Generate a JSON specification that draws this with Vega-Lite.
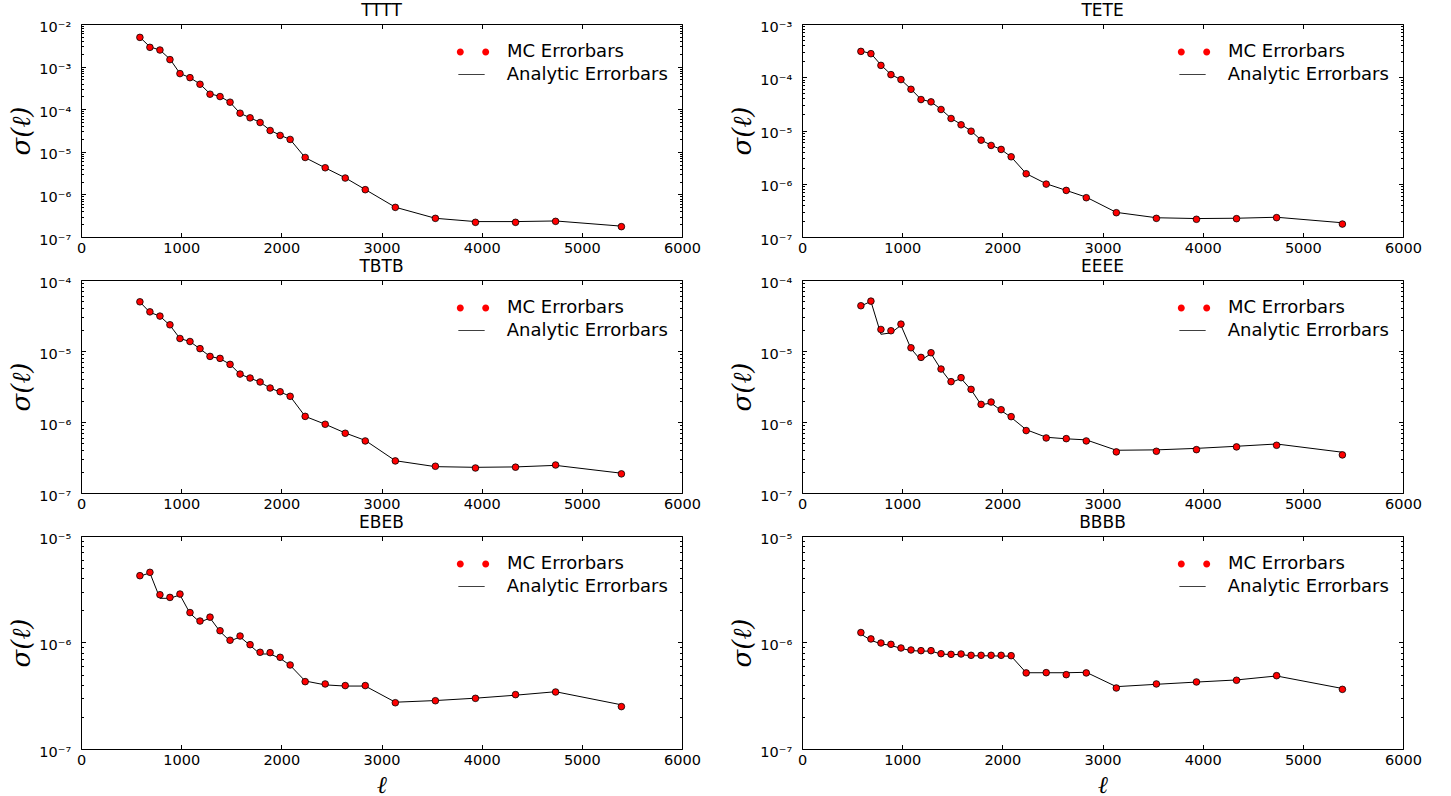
{
"$schema": "https://vega.github.io/schema/vega-lite/v6.json",
"padding": {"left": 7, "top": 1, "right": 5, "bottom": 0},
"background": "white",
"datasets": {"d": [
{"p":"TTTT","l":588,"mc":4.85e-3,"an":4.9e-3},{"p":"TTTT","l":688,"mc":2.83e-3,"an":2.9e-3},{"p":"TTTT","l":788,"mc":2.45e-3,"an":2.45e-3},{"p":"TTTT","l":888,"mc":1.46e-3,"an":1.5e-3},{"p":"TTTT","l":988,"mc":6.85e-4,"an":6.9e-4},{"p":"TTTT","l":1088,"mc":5.5e-4,"an":5.5e-4},{"p":"TTTT","l":1188,"mc":3.85e-4,"an":3.9e-4},{"p":"TTTT","l":1288,"mc":2.25e-4,"an":2.3e-4},{"p":"TTTT","l":1388,"mc":1.98e-4,"an":2.0e-4},{"p":"TTTT","l":1488,"mc":1.46e-4,"an":1.45e-4},{"p":"TTTT","l":1588,"mc":8.05e-5,"an":8.0e-5},{"p":"TTTT","l":1688,"mc":6.28e-5,"an":6.3e-5},{"p":"TTTT","l":1788,"mc":4.87e-5,"an":4.9e-5},{"p":"TTTT","l":1888,"mc":3.16e-5,"an":3.2e-5},{"p":"TTTT","l":1988,"mc":2.42e-5,"an":2.45e-5},{"p":"TTTT","l":2088,"mc":1.95e-5,"an":1.95e-5},{"p":"TTTT","l":2238,"mc":7.36e-6,"an":7.3e-6},{"p":"TTTT","l":2438,"mc":4.22e-6,"an":4.2e-6},{"p":"TTTT","l":2638,"mc":2.42e-6,"an":2.45e-6},{"p":"TTTT","l":2838,"mc":1.29e-6,"an":1.3e-6},{"p":"TTTT","l":3138,"mc":4.96e-7,"an":5.0e-7},{"p":"TTTT","l":3538,"mc":2.74e-7,"an":2.75e-7},{"p":"TTTT","l":3938,"mc":2.21e-7,"an":2.3e-7},{"p":"TTTT","l":4338,"mc":2.21e-7,"an":2.3e-7},{"p":"TTTT","l":4738,"mc":2.33e-7,"an":2.38e-7},{"p":"TTTT","l":5395,"mc":1.75e-7,"an":1.8e-7},
{"p":"TETE","l":588,"mc":3.06e-4,"an":3.1e-4},{"p":"TETE","l":688,"mc":2.77e-4,"an":2.8e-4},{"p":"TETE","l":788,"mc":1.67e-4,"an":1.7e-4},{"p":"TETE","l":888,"mc":1.12e-4,"an":1.13e-4},{"p":"TETE","l":988,"mc":9.04e-5,"an":9.0e-5},{"p":"TETE","l":1088,"mc":5.94e-5,"an":6.0e-5},{"p":"TETE","l":1188,"mc":3.81e-5,"an":3.85e-5},{"p":"TETE","l":1288,"mc":3.45e-5,"an":3.45e-5},{"p":"TETE","l":1388,"mc":2.48e-5,"an":2.5e-5},{"p":"TETE","l":1488,"mc":1.68e-5,"an":1.7e-5},{"p":"TETE","l":1588,"mc":1.28e-5,"an":1.3e-5},{"p":"TETE","l":1688,"mc":9.7e-6,"an":9.8e-6},{"p":"TETE","l":1788,"mc":6.58e-6,"an":6.6e-6},{"p":"TETE","l":1888,"mc":5.24e-6,"an":5.3e-6},{"p":"TETE","l":1988,"mc":4.41e-6,"an":4.4e-6},{"p":"TETE","l":2088,"mc":3.21e-6,"an":3.2e-6},{"p":"TETE","l":2238,"mc":1.54e-6,"an":1.55e-6},{"p":"TETE","l":2438,"mc":9.84e-7,"an":1.0e-6},{"p":"TETE","l":2638,"mc":7.5e-7,"an":7.5e-7},{"p":"TETE","l":2838,"mc":5.47e-7,"an":5.6e-7},{"p":"TETE","l":3138,"mc":2.86e-7,"an":2.9e-7},{"p":"TETE","l":3538,"mc":2.24e-7,"an":2.3e-7},{"p":"TETE","l":3938,"mc":2.15e-7,"an":2.22e-7},{"p":"TETE","l":4338,"mc":2.21e-7,"an":2.25e-7},{"p":"TETE","l":4738,"mc":2.31e-7,"an":2.35e-7},{"p":"TETE","l":5395,"mc":1.75e-7,"an":1.85e-7},
{"p":"TBTB","l":588,"mc":4.93e-5,"an":4.9e-5},{"p":"TBTB","l":688,"mc":3.56e-5,"an":3.5e-5},{"p":"TBTB","l":788,"mc":3.1e-5,"an":3.1e-5},{"p":"TBTB","l":888,"mc":2.34e-5,"an":2.3e-5},{"p":"TBTB","l":988,"mc":1.5e-5,"an":1.5e-5},{"p":"TBTB","l":1088,"mc":1.36e-5,"an":1.36e-5},{"p":"TBTB","l":1188,"mc":1.08e-5,"an":1.07e-5},{"p":"TBTB","l":1288,"mc":8.39e-6,"an":8.4e-6},{"p":"TBTB","l":1388,"mc":7.87e-6,"an":7.8e-6},{"p":"TBTB","l":1488,"mc":6.48e-6,"an":6.5e-6},{"p":"TBTB","l":1588,"mc":4.73e-6,"an":4.7e-6},{"p":"TBTB","l":1688,"mc":4.16e-6,"an":4.15e-6},{"p":"TBTB","l":1788,"mc":3.66e-6,"an":3.65e-6},{"p":"TBTB","l":1888,"mc":3.01e-6,"an":3.0e-6},{"p":"TBTB","l":1988,"mc":2.67e-6,"an":2.65e-6},{"p":"TBTB","l":2088,"mc":2.3e-6,"an":2.3e-6},{"p":"TBTB","l":2238,"mc":1.2e-6,"an":1.2e-6},{"p":"TBTB","l":2438,"mc":9.29e-7,"an":9.3e-7},{"p":"TBTB","l":2638,"mc":6.94e-7,"an":7.0e-7},{"p":"TBTB","l":2838,"mc":5.41e-7,"an":5.5e-7},{"p":"TBTB","l":3138,"mc":2.83e-7,"an":2.85e-7},{"p":"TBTB","l":3538,"mc":2.38e-7,"an":2.35e-7},{"p":"TBTB","l":3938,"mc":2.25e-7,"an":2.3e-7},{"p":"TBTB","l":4338,"mc":2.31e-7,"an":2.33e-7},{"p":"TBTB","l":4738,"mc":2.48e-7,"an":2.45e-7},{"p":"TBTB","l":5395,"mc":1.86e-7,"an":1.9e-7},
{"p":"EEEE","l":588,"mc":4.34e-5,"an":4.3e-5},{"p":"EEEE","l":688,"mc":5.04e-5,"an":5.0e-5},{"p":"EEEE","l":788,"mc":2.01e-5,"an":1.72e-5},{"p":"EEEE","l":888,"mc":1.93e-5,"an":1.8e-5},{"p":"EEEE","l":988,"mc":2.39e-5,"an":2.3e-5},{"p":"EEEE","l":1088,"mc":1.11e-5,"an":1.08e-5},{"p":"EEEE","l":1188,"mc":8.13e-6,"an":7.4e-6},{"p":"EEEE","l":1288,"mc":9.46e-6,"an":9.2e-6},{"p":"EEEE","l":1388,"mc":5.57e-6,"an":5.5e-6},{"p":"EEEE","l":1488,"mc":3.7e-6,"an":3.6e-6},{"p":"EEEE","l":1588,"mc":4.21e-6,"an":4.1e-6},{"p":"EEEE","l":1688,"mc":2.88e-6,"an":2.85e-6},{"p":"EEEE","l":1788,"mc":1.77e-6,"an":1.75e-6},{"p":"EEEE","l":1888,"mc":1.91e-6,"an":1.85e-6},{"p":"EEEE","l":1988,"mc":1.49e-6,"an":1.45e-6},{"p":"EEEE","l":2088,"mc":1.19e-6,"an":1.16e-6},{"p":"EEEE","l":2238,"mc":7.57e-7,"an":7.8e-7},{"p":"EEEE","l":2438,"mc":5.96e-7,"an":6.1e-7},{"p":"EEEE","l":2638,"mc":5.83e-7,"an":5.8e-7},{"p":"EEEE","l":2838,"mc":5.41e-7,"an":5.6e-7},{"p":"EEEE","l":3138,"mc":3.79e-7,"an":4.0e-7},{"p":"EEEE","l":3538,"mc":3.87e-7,"an":4.05e-7},{"p":"EEEE","l":3938,"mc":4.08e-7,"an":4.25e-7},{"p":"EEEE","l":4338,"mc":4.46e-7,"an":4.55e-7},{"p":"EEEE","l":4738,"mc":4.7e-7,"an":4.9e-7},{"p":"EEEE","l":5395,"mc":3.44e-7,"an":3.75e-7},
{"p":"EBEB","l":588,"mc":4.24e-6,"an":4.2e-6},{"p":"EBEB","l":688,"mc":4.56e-6,"an":4.5e-6},{"p":"EBEB","l":788,"mc":2.81e-6,"an":2.6e-6},{"p":"EBEB","l":888,"mc":2.65e-6,"an":2.6e-6},{"p":"EBEB","l":988,"mc":2.85e-6,"an":2.8e-6},{"p":"EBEB","l":1088,"mc":1.91e-6,"an":1.88e-6},{"p":"EBEB","l":1188,"mc":1.59e-6,"an":1.55e-6},{"p":"EBEB","l":1288,"mc":1.73e-6,"an":1.7e-6},{"p":"EBEB","l":1388,"mc":1.29e-6,"an":1.27e-6},{"p":"EBEB","l":1488,"mc":1.05e-6,"an":1.03e-6},{"p":"EBEB","l":1588,"mc":1.15e-6,"an":1.13e-6},{"p":"EBEB","l":1688,"mc":9.54e-7,"an":9.4e-7},{"p":"EBEB","l":1788,"mc":8.09e-7,"an":7.8e-7},{"p":"EBEB","l":1888,"mc":8.03e-7,"an":7.8e-7},{"p":"EBEB","l":1988,"mc":7.26e-7,"an":7.1e-7},{"p":"EBEB","l":2088,"mc":6.15e-7,"an":6.1e-7},{"p":"EBEB","l":2238,"mc":4.29e-7,"an":4.35e-7},{"p":"EBEB","l":2438,"mc":4.08e-7,"an":4.0e-7},{"p":"EBEB","l":2638,"mc":3.94e-7,"an":3.9e-7},{"p":"EBEB","l":2838,"mc":3.94e-7,"an":3.9e-7},{"p":"EBEB","l":3138,"mc":2.72e-7,"an":2.75e-7},{"p":"EBEB","l":3538,"mc":2.84e-7,"an":2.85e-7},{"p":"EBEB","l":3938,"mc":2.99e-7,"an":3.0e-7},{"p":"EBEB","l":4338,"mc":3.24e-7,"an":3.2e-7},{"p":"EBEB","l":4738,"mc":3.43e-7,"an":3.45e-7},{"p":"EBEB","l":5395,"mc":2.5e-7,"an":2.6e-7},
{"p":"BBBB","l":588,"mc":1.24e-6,"an":1.2e-6},{"p":"BBBB","l":688,"mc":1.08e-6,"an":1.05e-6},{"p":"BBBB","l":788,"mc":9.89e-7,"an":9.7e-7},{"p":"BBBB","l":888,"mc":9.61e-7,"an":9.4e-7},{"p":"BBBB","l":988,"mc":8.88e-7,"an":8.8e-7},{"p":"BBBB","l":1088,"mc":8.51e-7,"an":8.4e-7},{"p":"BBBB","l":1188,"mc":8.38e-7,"an":8.3e-7},{"p":"BBBB","l":1288,"mc":8.38e-7,"an":8.3e-7},{"p":"BBBB","l":1388,"mc":7.85e-7,"an":7.8e-7},{"p":"BBBB","l":1488,"mc":7.74e-7,"an":7.7e-7},{"p":"BBBB","l":1588,"mc":7.8e-7,"an":7.7e-7},{"p":"BBBB","l":1688,"mc":7.58e-7,"an":7.5e-7},{"p":"BBBB","l":1788,"mc":7.58e-7,"an":7.5e-7},{"p":"BBBB","l":1888,"mc":7.58e-7,"an":7.5e-7},{"p":"BBBB","l":1988,"mc":7.58e-7,"an":7.45e-7},{"p":"BBBB","l":2088,"mc":7.52e-7,"an":7.45e-7},{"p":"BBBB","l":2238,"mc":5.18e-7,"an":5.2e-7},{"p":"BBBB","l":2438,"mc":5.21e-7,"an":5.2e-7},{"p":"BBBB","l":2638,"mc":4.99e-7,"an":5.2e-7},{"p":"BBBB","l":2838,"mc":5.18e-7,"an":5.25e-7},{"p":"BBBB","l":3138,"mc":3.74e-7,"an":3.85e-7},{"p":"BBBB","l":3538,"mc":4.08e-7,"an":4.05e-7},{"p":"BBBB","l":3938,"mc":4.26e-7,"an":4.25e-7},{"p":"BBBB","l":4338,"mc":4.42e-7,"an":4.45e-7},{"p":"BBBB","l":4738,"mc":4.88e-7,"an":4.85e-7},{"p":"BBBB","l":5395,"mc":3.63e-7,"an":3.7e-7}
]},
"data": {"name": "d"},
"columns": 2,
"spacing": {"row": 43, "column": 120},
"bounds": "flush",
"resolve": {"scale": {"shape": "independent", "strokeDash": "independent"}, "legend": {"shape": "independent", "strokeDash": "independent"}},
"concat": [
{"title": "TTTT", "width": 601, "height": 213,
 "transform": [{"filter": "datum.p === 'TTTT'"}],
 "layer": [
  {"mark": {"type": "line", "color": "black", "strokeWidth": 1},
   "encoding": {
    "x": {"field": "l", "type": "quantitative", "scale": {"domain": [0, 6000], "nice": false, "zero": false}, "axis": {"orient": "bottom", "values": [0,1000,2000,3000,4000,5000,6000], "format": "d", "title": null, "tickSize": -4.5, "labelPadding": 9.2}},
    "y": {"field": "an", "type": "quantitative", "scale": {"type": "log", "domain": [1e-7, 1e-2], "nice": false}, "axis": {"orient": "left", "values": [1e-7,2e-7,3e-7,4e-7,5e-7,6e-7,7e-7,8e-7,9e-7,1e-6,2e-6,3e-6,4e-6,5e-6,6e-6,7e-6,8e-6,9e-6,1e-5,2e-5,3e-5,4e-5,5e-5,6e-5,7e-5,8e-5,9e-5,1e-4,2e-4,3e-4,4e-4,5e-4,6e-4,7e-4,8e-4,9e-4,1e-3,2e-3,3e-3,4e-3,5e-3,6e-3,7e-3,8e-3,9e-3,1e-2], "labelExpr": "abs(log(datum.value)/LN10-round(log(datum.value)/LN10))<0.001?'10⁻'+['⁰','¹','²','³','⁴','⁵','⁶','⁷','⁸','⁹'][-round(log(datum.value)/LN10)]:''", "tickSize": {"condition": {"test": "abs(log(datum.value)/LN10-round(log(datum.value)/LN10))<0.001", "value": -4.5}, "value": -2.5}, "labelPadding": 14.8, "labelOffset": 3, "title": "σ(ℓ)", "titleX": -60, "titleY": 106.5}}
   }},
  {"mark": {"type": "point", "filled": true, "fill": "#ff0000", "stroke": "black", "strokeWidth": 0.8, "size": 44, "opacity": 1},
   "encoding": {
    "x": {"field": "l", "type": "quantitative", "scale": {"domain": [0, 6000], "nice": false, "zero": false}, "axis": {"orient": "top", "values": [0,1000,2000,3000,4000,5000,6000], "labels": false, "title": null, "tickSize": -4.5}},
    "y": {"field": "mc", "type": "quantitative", "scale": {"type": "log", "domain": [1e-7, 1e-2], "nice": false}, "axis": {"orient": "right", "values": [1e-7,2e-7,3e-7,4e-7,5e-7,6e-7,7e-7,8e-7,9e-7,1e-6,2e-6,3e-6,4e-6,5e-6,6e-6,7e-6,8e-6,9e-6,1e-5,2e-5,3e-5,4e-5,5e-5,6e-5,7e-5,8e-5,9e-5,1e-4,2e-4,3e-4,4e-4,5e-4,6e-4,7e-4,8e-4,9e-4,1e-3,2e-3,3e-3,4e-3,5e-3,6e-3,7e-3,8e-3,9e-3,1e-2], "labels": false, "title": null, "tickSize": {"condition": {"test": "abs(log(datum.value)/LN10-round(log(datum.value)/LN10))<0.001", "value": -4.5}, "value": -2.5}}}
   }},
  {"data": {"values": []},
   "mark": {"type": "point", "filled": true, "fill": "#ff0000", "stroke": "black", "strokeWidth": 1, "opacity": 1},
   "encoding": {
    "x": {"field": "l", "type": "quantitative", "scale": {"domain": [0, 6000], "nice": false, "zero": false}, "axis": null},
    "y": {"field": "mc", "type": "quantitative", "scale": {"type": "log", "domain": [1e-7, 1e-2], "nice": false}, "axis": null},
    "shape": {"datum": "MC Errorbars", "type": "nominal", "scale": {"domain": ["MC Errorbars"], "range": ["M-1,0A0.216,0.216,0,1,1,-0.568,0A0.216,0.216,0,1,1,-1,0ZM0.568,0A0.216,0.216,0,1,1,1,0A0.216,0.216,0,1,1,0.568,0Z"]}, "legend": {"title": null, "orient": "none", "legendX": 375, "legendY": 11}}
   }},
  {"data": {"values": []},
   "mark": {"type": "line", "color": "black", "strokeWidth": 1},
   "encoding": {
    "x": {"field": "l", "type": "quantitative", "scale": {"domain": [0, 6000], "nice": false, "zero": false}, "axis": null},
    "y": {"field": "an", "type": "quantitative", "scale": {"type": "log", "domain": [1e-7, 1e-2], "nice": false}, "axis": null},
    "strokeDash": {"datum": "Analytic Errorbars", "type": "nominal", "scale": {"domain": ["Analytic Errorbars"], "range": [[1, 0]]}, "legend": {"title": null, "orient": "none", "legendX": 377, "legendY": 37, "symbolSize": 676, "symbolType": "stroke", "symbolStrokeColor": "black", "symbolStrokeWidth": 1, "labelOffset": 21.7}}
   }}
 ],
 "resolve": {"axis": {"x": "independent", "y": "independent"}}
},
{"title": "TETE", "width": 601, "height": 213,
 "transform": [{"filter": "datum.p === 'TETE'"}],
 "layer": [
  {"mark": {"type": "line", "color": "black", "strokeWidth": 1},
   "encoding": {
    "x": {"field": "l", "type": "quantitative", "scale": {"domain": [0, 6000], "nice": false, "zero": false}, "axis": {"orient": "bottom", "values": [0,1000,2000,3000,4000,5000,6000], "format": "d", "title": null, "tickSize": -4.5, "labelPadding": 9.2}},
    "y": {"field": "an", "type": "quantitative", "scale": {"type": "log", "domain": [1e-7, 1e-3], "nice": false}, "axis": {"orient": "left", "values": [1e-7,2e-7,3e-7,4e-7,5e-7,6e-7,7e-7,8e-7,9e-7,1e-6,2e-6,3e-6,4e-6,5e-6,6e-6,7e-6,8e-6,9e-6,1e-5,2e-5,3e-5,4e-5,5e-5,6e-5,7e-5,8e-5,9e-5,1e-4,2e-4,3e-4,4e-4,5e-4,6e-4,7e-4,8e-4,9e-4,1e-3], "labelExpr": "abs(log(datum.value)/LN10-round(log(datum.value)/LN10))<0.001?'10⁻'+['⁰','¹','²','³','⁴','⁵','⁶','⁷','⁸','⁹'][-round(log(datum.value)/LN10)]:''", "tickSize": {"condition": {"test": "abs(log(datum.value)/LN10-round(log(datum.value)/LN10))<0.001", "value": -4.5}, "value": -2.5}, "labelPadding": 14.8, "labelOffset": 3, "title": "σ(ℓ)", "titleX": -60, "titleY": 106.5}}
   }},
  {"mark": {"type": "point", "filled": true, "fill": "#ff0000", "stroke": "black", "strokeWidth": 0.8, "size": 44, "opacity": 1},
   "encoding": {
    "x": {"field": "l", "type": "quantitative", "scale": {"domain": [0, 6000], "nice": false, "zero": false}, "axis": {"orient": "top", "values": [0,1000,2000,3000,4000,5000,6000], "labels": false, "title": null, "tickSize": -4.5}},
    "y": {"field": "mc", "type": "quantitative", "scale": {"type": "log", "domain": [1e-7, 1e-3], "nice": false}, "axis": {"orient": "right", "values": [1e-7,2e-7,3e-7,4e-7,5e-7,6e-7,7e-7,8e-7,9e-7,1e-6,2e-6,3e-6,4e-6,5e-6,6e-6,7e-6,8e-6,9e-6,1e-5,2e-5,3e-5,4e-5,5e-5,6e-5,7e-5,8e-5,9e-5,1e-4,2e-4,3e-4,4e-4,5e-4,6e-4,7e-4,8e-4,9e-4,1e-3], "labels": false, "title": null, "tickSize": {"condition": {"test": "abs(log(datum.value)/LN10-round(log(datum.value)/LN10))<0.001", "value": -4.5}, "value": -2.5}}}
   }},
  {"data": {"values": []},
   "mark": {"type": "point", "filled": true, "fill": "#ff0000", "stroke": "black", "strokeWidth": 1, "opacity": 1},
   "encoding": {
    "x": {"field": "l", "type": "quantitative", "scale": {"domain": [0, 6000], "nice": false, "zero": false}, "axis": null},
    "y": {"field": "mc", "type": "quantitative", "scale": {"type": "log", "domain": [1e-7, 1e-3], "nice": false}, "axis": null},
    "shape": {"datum": "MC Errorbars", "type": "nominal", "scale": {"domain": ["MC Errorbars"], "range": ["M-1,0A0.216,0.216,0,1,1,-0.568,0A0.216,0.216,0,1,1,-1,0ZM0.568,0A0.216,0.216,0,1,1,1,0A0.216,0.216,0,1,1,0.568,0Z"]}, "legend": {"title": null, "orient": "none", "legendX": 375, "legendY": 11}}
   }},
  {"data": {"values": []},
   "mark": {"type": "line", "color": "black", "strokeWidth": 1},
   "encoding": {
    "x": {"field": "l", "type": "quantitative", "scale": {"domain": [0, 6000], "nice": false, "zero": false}, "axis": null},
    "y": {"field": "an", "type": "quantitative", "scale": {"type": "log", "domain": [1e-7, 1e-3], "nice": false}, "axis": null},
    "strokeDash": {"datum": "Analytic Errorbars", "type": "nominal", "scale": {"domain": ["Analytic Errorbars"], "range": [[1, 0]]}, "legend": {"title": null, "orient": "none", "legendX": 377, "legendY": 37, "symbolSize": 676, "symbolType": "stroke", "symbolStrokeColor": "black", "symbolStrokeWidth": 1, "labelOffset": 21.7}}
   }}
 ],
 "resolve": {"axis": {"x": "independent", "y": "independent"}}
},
{"title": "TBTB", "width": 601, "height": 213,
 "transform": [{"filter": "datum.p === 'TBTB'"}],
 "layer": [
  {"mark": {"type": "line", "color": "black", "strokeWidth": 1},
   "encoding": {
    "x": {"field": "l", "type": "quantitative", "scale": {"domain": [0, 6000], "nice": false, "zero": false}, "axis": {"orient": "bottom", "values": [0,1000,2000,3000,4000,5000,6000], "format": "d", "title": null, "tickSize": -4.5, "labelPadding": 9.2}},
    "y": {"field": "an", "type": "quantitative", "scale": {"type": "log", "domain": [1e-7, 1e-4], "nice": false}, "axis": {"orient": "left", "values": [1e-7,2e-7,3e-7,4e-7,5e-7,6e-7,7e-7,8e-7,9e-7,1e-6,2e-6,3e-6,4e-6,5e-6,6e-6,7e-6,8e-6,9e-6,1e-5,2e-5,3e-5,4e-5,5e-5,6e-5,7e-5,8e-5,9e-5,1e-4], "labelExpr": "abs(log(datum.value)/LN10-round(log(datum.value)/LN10))<0.001?'10⁻'+['⁰','¹','²','³','⁴','⁵','⁶','⁷','⁸','⁹'][-round(log(datum.value)/LN10)]:''", "tickSize": {"condition": {"test": "abs(log(datum.value)/LN10-round(log(datum.value)/LN10))<0.001", "value": -4.5}, "value": -2.5}, "labelPadding": 14.8, "labelOffset": 3, "title": "σ(ℓ)", "titleX": -60, "titleY": 106.5}}
   }},
  {"mark": {"type": "point", "filled": true, "fill": "#ff0000", "stroke": "black", "strokeWidth": 0.8, "size": 44, "opacity": 1},
   "encoding": {
    "x": {"field": "l", "type": "quantitative", "scale": {"domain": [0, 6000], "nice": false, "zero": false}, "axis": {"orient": "top", "values": [0,1000,2000,3000,4000,5000,6000], "labels": false, "title": null, "tickSize": -4.5}},
    "y": {"field": "mc", "type": "quantitative", "scale": {"type": "log", "domain": [1e-7, 1e-4], "nice": false}, "axis": {"orient": "right", "values": [1e-7,2e-7,3e-7,4e-7,5e-7,6e-7,7e-7,8e-7,9e-7,1e-6,2e-6,3e-6,4e-6,5e-6,6e-6,7e-6,8e-6,9e-6,1e-5,2e-5,3e-5,4e-5,5e-5,6e-5,7e-5,8e-5,9e-5,1e-4], "labels": false, "title": null, "tickSize": {"condition": {"test": "abs(log(datum.value)/LN10-round(log(datum.value)/LN10))<0.001", "value": -4.5}, "value": -2.5}}}
   }},
  {"data": {"values": []},
   "mark": {"type": "point", "filled": true, "fill": "#ff0000", "stroke": "black", "strokeWidth": 1, "opacity": 1},
   "encoding": {
    "x": {"field": "l", "type": "quantitative", "scale": {"domain": [0, 6000], "nice": false, "zero": false}, "axis": null},
    "y": {"field": "mc", "type": "quantitative", "scale": {"type": "log", "domain": [1e-7, 1e-4], "nice": false}, "axis": null},
    "shape": {"datum": "MC Errorbars", "type": "nominal", "scale": {"domain": ["MC Errorbars"], "range": ["M-1,0A0.216,0.216,0,1,1,-0.568,0A0.216,0.216,0,1,1,-1,0ZM0.568,0A0.216,0.216,0,1,1,1,0A0.216,0.216,0,1,1,0.568,0Z"]}, "legend": {"title": null, "orient": "none", "legendX": 375, "legendY": 11}}
   }},
  {"data": {"values": []},
   "mark": {"type": "line", "color": "black", "strokeWidth": 1},
   "encoding": {
    "x": {"field": "l", "type": "quantitative", "scale": {"domain": [0, 6000], "nice": false, "zero": false}, "axis": null},
    "y": {"field": "an", "type": "quantitative", "scale": {"type": "log", "domain": [1e-7, 1e-4], "nice": false}, "axis": null},
    "strokeDash": {"datum": "Analytic Errorbars", "type": "nominal", "scale": {"domain": ["Analytic Errorbars"], "range": [[1, 0]]}, "legend": {"title": null, "orient": "none", "legendX": 377, "legendY": 37, "symbolSize": 676, "symbolType": "stroke", "symbolStrokeColor": "black", "symbolStrokeWidth": 1, "labelOffset": 21.7}}
   }}
 ],
 "resolve": {"axis": {"x": "independent", "y": "independent"}}
},
{"title": "EEEE", "width": 601, "height": 213,
 "transform": [{"filter": "datum.p === 'EEEE'"}],
 "layer": [
  {"mark": {"type": "line", "color": "black", "strokeWidth": 1},
   "encoding": {
    "x": {"field": "l", "type": "quantitative", "scale": {"domain": [0, 6000], "nice": false, "zero": false}, "axis": {"orient": "bottom", "values": [0,1000,2000,3000,4000,5000,6000], "format": "d", "title": null, "tickSize": -4.5, "labelPadding": 9.2}},
    "y": {"field": "an", "type": "quantitative", "scale": {"type": "log", "domain": [1e-7, 1e-4], "nice": false}, "axis": {"orient": "left", "values": [1e-7,2e-7,3e-7,4e-7,5e-7,6e-7,7e-7,8e-7,9e-7,1e-6,2e-6,3e-6,4e-6,5e-6,6e-6,7e-6,8e-6,9e-6,1e-5,2e-5,3e-5,4e-5,5e-5,6e-5,7e-5,8e-5,9e-5,1e-4], "labelExpr": "abs(log(datum.value)/LN10-round(log(datum.value)/LN10))<0.001?'10⁻'+['⁰','¹','²','³','⁴','⁵','⁶','⁷','⁸','⁹'][-round(log(datum.value)/LN10)]:''", "tickSize": {"condition": {"test": "abs(log(datum.value)/LN10-round(log(datum.value)/LN10))<0.001", "value": -4.5}, "value": -2.5}, "labelPadding": 14.8, "labelOffset": 3, "title": "σ(ℓ)", "titleX": -60, "titleY": 106.5}}
   }},
  {"mark": {"type": "point", "filled": true, "fill": "#ff0000", "stroke": "black", "strokeWidth": 0.8, "size": 44, "opacity": 1},
   "encoding": {
    "x": {"field": "l", "type": "quantitative", "scale": {"domain": [0, 6000], "nice": false, "zero": false}, "axis": {"orient": "top", "values": [0,1000,2000,3000,4000,5000,6000], "labels": false, "title": null, "tickSize": -4.5}},
    "y": {"field": "mc", "type": "quantitative", "scale": {"type": "log", "domain": [1e-7, 1e-4], "nice": false}, "axis": {"orient": "right", "values": [1e-7,2e-7,3e-7,4e-7,5e-7,6e-7,7e-7,8e-7,9e-7,1e-6,2e-6,3e-6,4e-6,5e-6,6e-6,7e-6,8e-6,9e-6,1e-5,2e-5,3e-5,4e-5,5e-5,6e-5,7e-5,8e-5,9e-5,1e-4], "labels": false, "title": null, "tickSize": {"condition": {"test": "abs(log(datum.value)/LN10-round(log(datum.value)/LN10))<0.001", "value": -4.5}, "value": -2.5}}}
   }},
  {"data": {"values": []},
   "mark": {"type": "point", "filled": true, "fill": "#ff0000", "stroke": "black", "strokeWidth": 1, "opacity": 1},
   "encoding": {
    "x": {"field": "l", "type": "quantitative", "scale": {"domain": [0, 6000], "nice": false, "zero": false}, "axis": null},
    "y": {"field": "mc", "type": "quantitative", "scale": {"type": "log", "domain": [1e-7, 1e-4], "nice": false}, "axis": null},
    "shape": {"datum": "MC Errorbars", "type": "nominal", "scale": {"domain": ["MC Errorbars"], "range": ["M-1,0A0.216,0.216,0,1,1,-0.568,0A0.216,0.216,0,1,1,-1,0ZM0.568,0A0.216,0.216,0,1,1,1,0A0.216,0.216,0,1,1,0.568,0Z"]}, "legend": {"title": null, "orient": "none", "legendX": 375, "legendY": 11}}
   }},
  {"data": {"values": []},
   "mark": {"type": "line", "color": "black", "strokeWidth": 1},
   "encoding": {
    "x": {"field": "l", "type": "quantitative", "scale": {"domain": [0, 6000], "nice": false, "zero": false}, "axis": null},
    "y": {"field": "an", "type": "quantitative", "scale": {"type": "log", "domain": [1e-7, 1e-4], "nice": false}, "axis": null},
    "strokeDash": {"datum": "Analytic Errorbars", "type": "nominal", "scale": {"domain": ["Analytic Errorbars"], "range": [[1, 0]]}, "legend": {"title": null, "orient": "none", "legendX": 377, "legendY": 37, "symbolSize": 676, "symbolType": "stroke", "symbolStrokeColor": "black", "symbolStrokeWidth": 1, "labelOffset": 21.7}}
   }}
 ],
 "resolve": {"axis": {"x": "independent", "y": "independent"}}
},
{"title": "EBEB", "width": 601, "height": 213,
 "transform": [{"filter": "datum.p === 'EBEB'"}],
 "layer": [
  {"mark": {"type": "line", "color": "black", "strokeWidth": 1},
   "encoding": {
    "x": {"field": "l", "type": "quantitative", "scale": {"domain": [0, 6000], "nice": false, "zero": false}, "axis": {"orient": "bottom", "values": [0,1000,2000,3000,4000,5000,6000], "format": "d", "title": "ℓ", "titleX": 300.5, "titleY": 43, "titleBaseline": "alphabetic", "titleAlign": "center", "titleFontSize": 24, "tickSize": -4.5, "labelPadding": 9.2}},
    "y": {"field": "an", "type": "quantitative", "scale": {"type": "log", "domain": [1e-7, 1e-5], "nice": false}, "axis": {"orient": "left", "values": [1e-7,2e-7,3e-7,4e-7,5e-7,6e-7,7e-7,8e-7,9e-7,1e-6,2e-6,3e-6,4e-6,5e-6,6e-6,7e-6,8e-6,9e-6,1e-5], "labelExpr": "abs(log(datum.value)/LN10-round(log(datum.value)/LN10))<0.001?'10⁻'+['⁰','¹','²','³','⁴','⁵','⁶','⁷','⁸','⁹'][-round(log(datum.value)/LN10)]:''", "tickSize": {"condition": {"test": "abs(log(datum.value)/LN10-round(log(datum.value)/LN10))<0.001", "value": -4.5}, "value": -2.5}, "labelPadding": 14.8, "labelOffset": 3, "title": "σ(ℓ)", "titleX": -60, "titleY": 106.5}}
   }},
  {"mark": {"type": "point", "filled": true, "fill": "#ff0000", "stroke": "black", "strokeWidth": 0.8, "size": 44, "opacity": 1},
   "encoding": {
    "x": {"field": "l", "type": "quantitative", "scale": {"domain": [0, 6000], "nice": false, "zero": false}, "axis": {"orient": "top", "values": [0,1000,2000,3000,4000,5000,6000], "labels": false, "title": null, "tickSize": -4.5}},
    "y": {"field": "mc", "type": "quantitative", "scale": {"type": "log", "domain": [1e-7, 1e-5], "nice": false}, "axis": {"orient": "right", "values": [1e-7,2e-7,3e-7,4e-7,5e-7,6e-7,7e-7,8e-7,9e-7,1e-6,2e-6,3e-6,4e-6,5e-6,6e-6,7e-6,8e-6,9e-6,1e-5], "labels": false, "title": null, "tickSize": {"condition": {"test": "abs(log(datum.value)/LN10-round(log(datum.value)/LN10))<0.001", "value": -4.5}, "value": -2.5}}}
   }},
  {"data": {"values": []},
   "mark": {"type": "point", "filled": true, "fill": "#ff0000", "stroke": "black", "strokeWidth": 1, "opacity": 1},
   "encoding": {
    "x": {"field": "l", "type": "quantitative", "scale": {"domain": [0, 6000], "nice": false, "zero": false}, "axis": null},
    "y": {"field": "mc", "type": "quantitative", "scale": {"type": "log", "domain": [1e-7, 1e-5], "nice": false}, "axis": null},
    "shape": {"datum": "MC Errorbars", "type": "nominal", "scale": {"domain": ["MC Errorbars"], "range": ["M-1,0A0.216,0.216,0,1,1,-0.568,0A0.216,0.216,0,1,1,-1,0ZM0.568,0A0.216,0.216,0,1,1,1,0A0.216,0.216,0,1,1,0.568,0Z"]}, "legend": {"title": null, "orient": "none", "legendX": 375, "legendY": 11}}
   }},
  {"data": {"values": []},
   "mark": {"type": "line", "color": "black", "strokeWidth": 1},
   "encoding": {
    "x": {"field": "l", "type": "quantitative", "scale": {"domain": [0, 6000], "nice": false, "zero": false}, "axis": null},
    "y": {"field": "an", "type": "quantitative", "scale": {"type": "log", "domain": [1e-7, 1e-5], "nice": false}, "axis": null},
    "strokeDash": {"datum": "Analytic Errorbars", "type": "nominal", "scale": {"domain": ["Analytic Errorbars"], "range": [[1, 0]]}, "legend": {"title": null, "orient": "none", "legendX": 377, "legendY": 37, "symbolSize": 676, "symbolType": "stroke", "symbolStrokeColor": "black", "symbolStrokeWidth": 1, "labelOffset": 21.7}}
   }}
 ],
 "resolve": {"axis": {"x": "independent", "y": "independent"}}
},
{"title": "BBBB", "width": 601, "height": 213,
 "transform": [{"filter": "datum.p === 'BBBB'"}],
 "layer": [
  {"mark": {"type": "line", "color": "black", "strokeWidth": 1},
   "encoding": {
    "x": {"field": "l", "type": "quantitative", "scale": {"domain": [0, 6000], "nice": false, "zero": false}, "axis": {"orient": "bottom", "values": [0,1000,2000,3000,4000,5000,6000], "format": "d", "title": "ℓ", "titleX": 300.5, "titleY": 43, "titleBaseline": "alphabetic", "titleAlign": "center", "titleFontSize": 24, "tickSize": -4.5, "labelPadding": 9.2}},
    "y": {"field": "an", "type": "quantitative", "scale": {"type": "log", "domain": [1e-7, 1e-5], "nice": false}, "axis": {"orient": "left", "values": [1e-7,2e-7,3e-7,4e-7,5e-7,6e-7,7e-7,8e-7,9e-7,1e-6,2e-6,3e-6,4e-6,5e-6,6e-6,7e-6,8e-6,9e-6,1e-5], "labelExpr": "abs(log(datum.value)/LN10-round(log(datum.value)/LN10))<0.001?'10⁻'+['⁰','¹','²','³','⁴','⁵','⁶','⁷','⁸','⁹'][-round(log(datum.value)/LN10)]:''", "tickSize": {"condition": {"test": "abs(log(datum.value)/LN10-round(log(datum.value)/LN10))<0.001", "value": -4.5}, "value": -2.5}, "labelPadding": 14.8, "labelOffset": 3, "title": "σ(ℓ)", "titleX": -60, "titleY": 106.5}}
   }},
  {"mark": {"type": "point", "filled": true, "fill": "#ff0000", "stroke": "black", "strokeWidth": 0.8, "size": 44, "opacity": 1},
   "encoding": {
    "x": {"field": "l", "type": "quantitative", "scale": {"domain": [0, 6000], "nice": false, "zero": false}, "axis": {"orient": "top", "values": [0,1000,2000,3000,4000,5000,6000], "labels": false, "title": null, "tickSize": -4.5}},
    "y": {"field": "mc", "type": "quantitative", "scale": {"type": "log", "domain": [1e-7, 1e-5], "nice": false}, "axis": {"orient": "right", "values": [1e-7,2e-7,3e-7,4e-7,5e-7,6e-7,7e-7,8e-7,9e-7,1e-6,2e-6,3e-6,4e-6,5e-6,6e-6,7e-6,8e-6,9e-6,1e-5], "labels": false, "title": null, "tickSize": {"condition": {"test": "abs(log(datum.value)/LN10-round(log(datum.value)/LN10))<0.001", "value": -4.5}, "value": -2.5}}}
   }},
  {"data": {"values": []},
   "mark": {"type": "point", "filled": true, "fill": "#ff0000", "stroke": "black", "strokeWidth": 1, "opacity": 1},
   "encoding": {
    "x": {"field": "l", "type": "quantitative", "scale": {"domain": [0, 6000], "nice": false, "zero": false}, "axis": null},
    "y": {"field": "mc", "type": "quantitative", "scale": {"type": "log", "domain": [1e-7, 1e-5], "nice": false}, "axis": null},
    "shape": {"datum": "MC Errorbars", "type": "nominal", "scale": {"domain": ["MC Errorbars"], "range": ["M-1,0A0.216,0.216,0,1,1,-0.568,0A0.216,0.216,0,1,1,-1,0ZM0.568,0A0.216,0.216,0,1,1,1,0A0.216,0.216,0,1,1,0.568,0Z"]}, "legend": {"title": null, "orient": "none", "legendX": 375, "legendY": 11}}
   }},
  {"data": {"values": []},
   "mark": {"type": "line", "color": "black", "strokeWidth": 1},
   "encoding": {
    "x": {"field": "l", "type": "quantitative", "scale": {"domain": [0, 6000], "nice": false, "zero": false}, "axis": null},
    "y": {"field": "an", "type": "quantitative", "scale": {"type": "log", "domain": [1e-7, 1e-5], "nice": false}, "axis": null},
    "strokeDash": {"datum": "Analytic Errorbars", "type": "nominal", "scale": {"domain": ["Analytic Errorbars"], "range": [[1, 0]]}, "legend": {"title": null, "orient": "none", "legendX": 377, "legendY": 37, "symbolSize": 676, "symbolType": "stroke", "symbolStrokeColor": "black", "symbolStrokeWidth": 1, "labelOffset": 21.7}}
   }}
 ],
 "resolve": {"axis": {"x": "independent", "y": "independent"}}
}
],
"config": {
 "view": {"stroke": "black", "strokeWidth": 1},
 "font": "DejaVu Sans",
 "axis": {"grid": false, "domain": false, "tickColor": "black", "tickWidth": 1, "labelFont": "DejaVu Sans", "labelFontSize": 14.5, "labelColor": "black", "labelFlush": false, "labelOverlap": false, "labelBound": false, "titleFont": "DejaVu Serif", "titleFontStyle": "italic", "titleFontWeight": "normal", "titleFontSize": 26, "titleColor": "black"},
 "axisLeft": {"titleAlign": "center", "titleBaseline": "middle", "titleAngle": -90},
 "title": {"font": "DejaVu Sans", "fontSize": 17, "fontWeight": "normal", "color": "black", "anchor": "middle", "frame": "group", "offset": -1, "baseline": "alphabetic"},
 "legend": {"padding": 0, "labelFont": "DejaVu Sans", "labelFontSize": 18, "labelColor": "black", "labelLimit": 400, "symbolSize": 1050, "symbolFillColor": "#ff0000", "symbolStrokeColor": "black", "symbolStrokeWidth": 1, "labelOffset": 17}
}
}
